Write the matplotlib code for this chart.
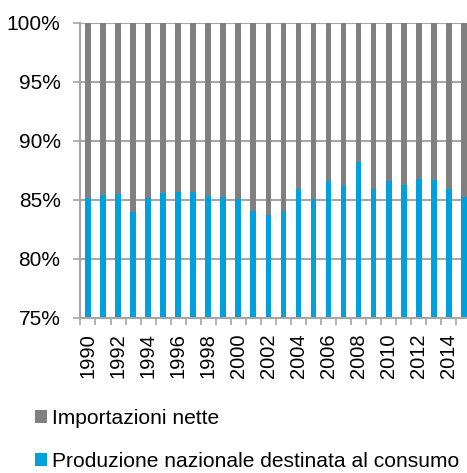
import numpy as np
import matplotlib
matplotlib.use("Agg")
import matplotlib.pyplot as plt
from matplotlib.ticker import FixedLocator, PercentFormatter

plt.rcParams['font.family'] = ['Liberation Sans', 'DejaVu Sans']

# Data (share of national consumption, %)
years = np.arange(1990, 2016)
produzione = [85.2, 85.4, 85.5, 84.0, 85.15, 85.6, 85.7, 85.65, 85.35, 85.25,
              85.1, 84.1, 83.7, 84.05, 85.95, 85.1, 86.65, 86.3, 88.2, 85.9,
              86.6, 86.3, 86.8, 86.7, 85.9, 85.25]
importazioni = [100 - p for p in produzione]

grey = '#808080'
blue = '#00A0DC'
grid_c = '#A6A6A6'

fig = plt.figure(figsize=(4.67, 4.73), dpi=100)
ax = fig.add_axes([0.1713, 0.3277, 0.838, 0.6237])

w = 0.38
b1 = ax.bar(years, produzione, width=w, color=blue, zorder=2,
            label='Produzione nazionale destinata al consumo')
b2 = ax.bar(years, importazioni, width=w, bottom=produzione, color=grey, zorder=2,
            label='Importazioni nette')

ax.set_ylim(75, 100)
ax.set_xlim(1989.47, 2015.5)
ax.set_yticks([75, 80, 85, 90, 95, 100])
ax.yaxis.set_major_formatter(PercentFormatter(decimals=0))
ax.yaxis.grid(True, color=grid_c, linewidth=1.5, zorder=1)

ax.set_xticks(years[::2])
ax.set_xticklabels([str(y) for y in years[::2]], rotation=90)
ax.xaxis.set_minor_locator(FixedLocator(np.arange(1989.5, 2016, 1)))
ax.tick_params(axis='x', which='major', length=0, pad=11, labelsize=14.5)
ax.tick_params(axis='x', which='minor', length=5, color=grid_c, width=1.2)
ax.tick_params(axis='y', length=5, color=grid_c, width=1.2, labelsize=15, pad=9)

for s in ['top', 'right']:
    ax.spines[s].set_visible(False)
for s in ['left', 'bottom']:
    ax.spines[s].set_color(grid_c)
    ax.spines[s].set_linewidth(1.5)

fig.legend(handles=[b2, b1], loc='upper left', bbox_to_anchor=(0.075, 0.135),
           frameon=False, fontsize=15.1, handlelength=0.57, handleheight=0.57,
           handletextpad=0.25, labelspacing=1.15, borderaxespad=0, borderpad=0)

fig.savefig('out.png', dpi=100)
